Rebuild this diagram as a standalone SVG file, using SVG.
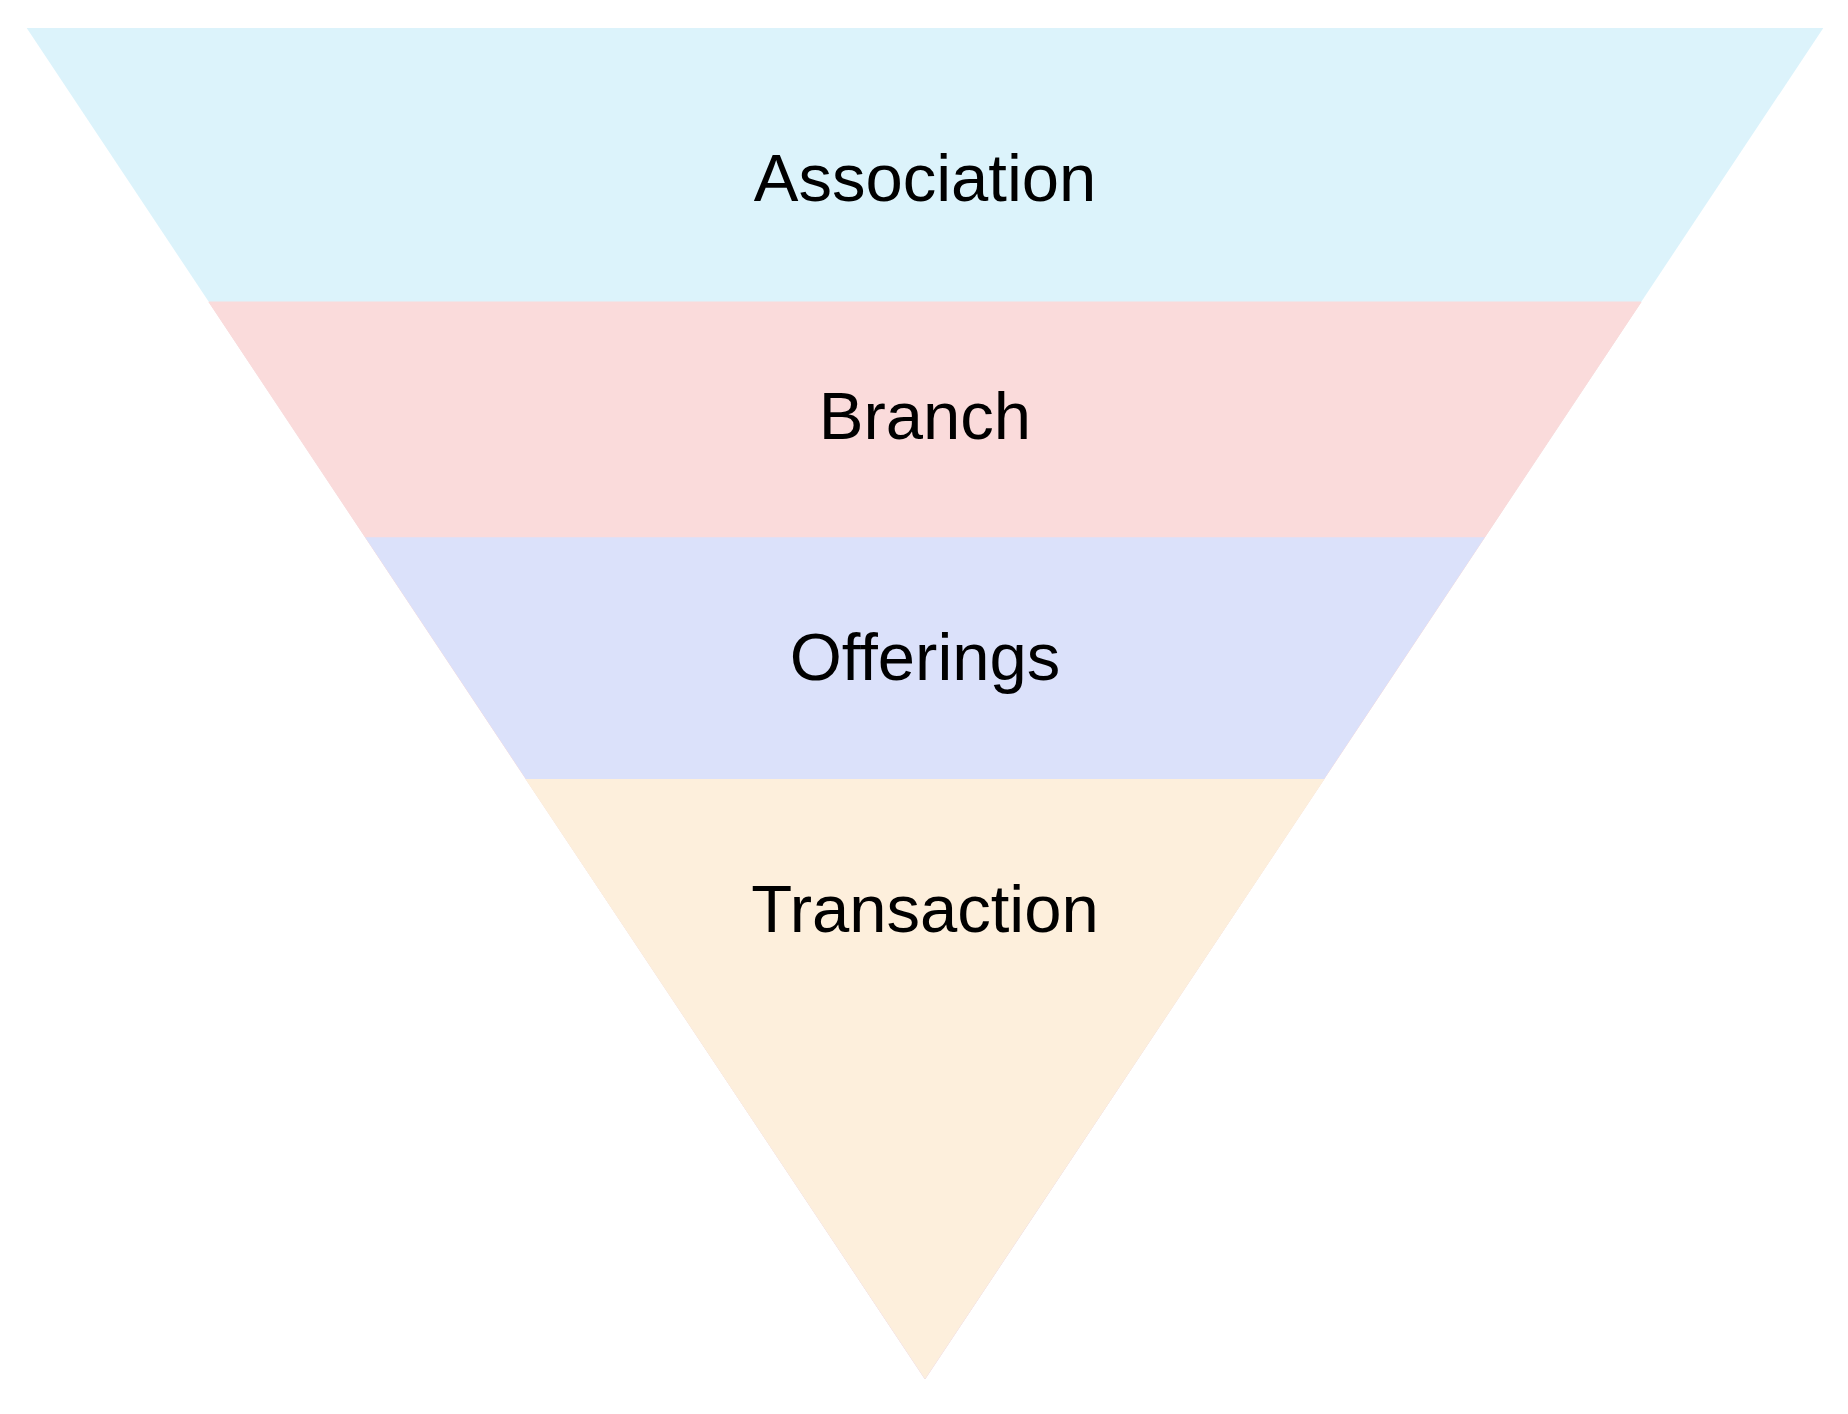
<svg xmlns="http://www.w3.org/2000/svg" width="1848" height="1414" viewBox="0 0 1848 1414">
<style>
.lbl{font-family:"Liberation Sans",Arial,sans-serif;font-size:67px;fill:#000;text-anchor:middle}
</style>
<rect width="1848" height="1414" fill="#fff"/>
<g id="layer-association"><polygon points="26.7,28 1823.3,28 925,1379" fill="#DCF3FB"/></g>
<g id="layer-branch"><polygon points="208.9,302 1641.1,302 925,1379" fill="#FADBDB" stroke="#FADBDB" stroke-width="1"/></g>
<g id="layer-offerings"><polygon points="365.2,537.3 1484.8,537.3 925,1379" fill="#DBE1FA"/></g>
<g id="layer-transaction"><polygon points="525.4,779 1324.6,779 925,1379" fill="#FDEFDC"/></g>
<g id="labels">
<text class="lbl" x="925" y="201">Association</text>
<text class="lbl" x="925" y="439">Branch</text>
<text class="lbl" x="925" y="680">Offerings</text>
<text class="lbl" x="925" y="932">Transaction</text>
</g>
</svg>
